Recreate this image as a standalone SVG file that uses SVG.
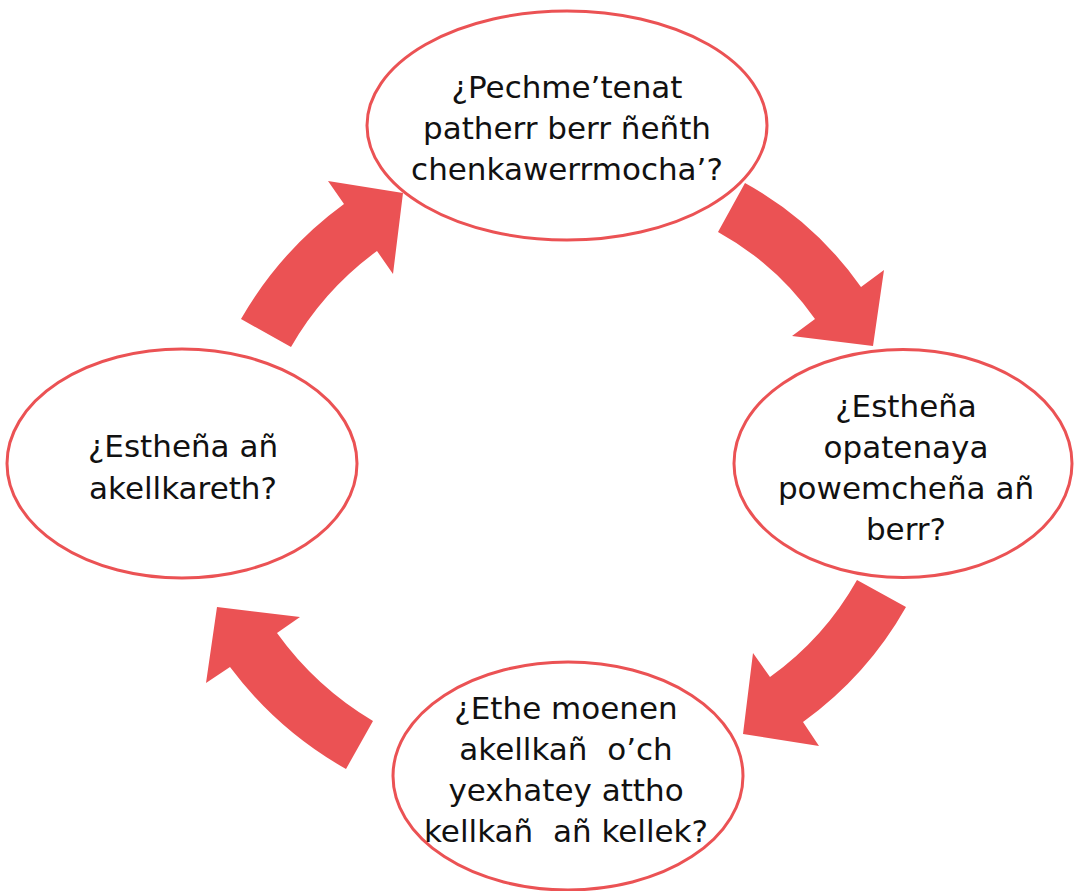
<svg xmlns="http://www.w3.org/2000/svg" width="1074" height="891" viewBox="0 0 1074 891">
<style>
.node ellipse{fill:#fff;stroke:#EB5254;stroke-width:3}
.node text{font-family:"DejaVu Sans","Liberation Sans",sans-serif;font-size:31px;fill:#111;text-anchor:middle;white-space:pre}
.arrow{fill:#EB5254;stroke:none}
</style>
<rect width="1074" height="891" fill="#fff"/>
<g id="connectors">
<path class="arrow" d="M 745,183 A 345 345 0 0 1 861,287 L 884,270 L 873,346 L 792,336 L 815,319 A 290 290 0 0 0 718,232 Z"/>
<path class="arrow" d="M 857,580 A 300 300 0 0 1 770,677 L 753,653 L 743,734 L 819,746 L 803,722 A 360 360 0 0 0 906,607 Z"/>
<path class="arrow" d="M 373,721 A 320 320 0 0 1 277,633 L 300,617 L 217,607 L 206,683 L 230,667 A 375 375 0 0 0 346,769 Z"/>
<path class="arrow" d="M 241,319 A 370 370 0 0 1 344,204 L 328,181 L 403,193 L 393,274 L 377,251 A 310 310 0 0 0 291,347 Z"/>
</g>
<g id="node-top" class="node">
<ellipse cx="567" cy="125.5" rx="200" ry="114.5"/>
<text x="567" y="98">¿Pechme’tenat</text>
<text x="567" y="139">patherr berr ñeñth</text>
<text x="567" y="180">chenkawerrmocha’?</text>
</g>
<g id="node-right" class="node">
<ellipse cx="903" cy="463.5" rx="169" ry="114"/>
<text x="906" y="417">¿Estheña</text>
<text x="906" y="458">opatenaya</text>
<text x="906" y="499">powemcheña añ</text>
<text x="906" y="540">berr?</text>
</g>
<g id="node-bottom" class="node">
<ellipse cx="568" cy="776" rx="175" ry="114"/>
<text x="566" y="719">¿Ethe moenen</text>
<text x="566" y="760">akellkañ  o’ch</text>
<text x="566" y="801">yexhatey attho</text>
<text x="566" y="842">kellkañ  añ kellek?</text>
</g>
<g id="node-left" class="node">
<ellipse cx="182" cy="463.5" rx="175" ry="114.5"/>
<text x="183" y="457">¿Estheña añ</text>
<text x="183" y="499">akellkareth?</text>
</g>
</svg>
